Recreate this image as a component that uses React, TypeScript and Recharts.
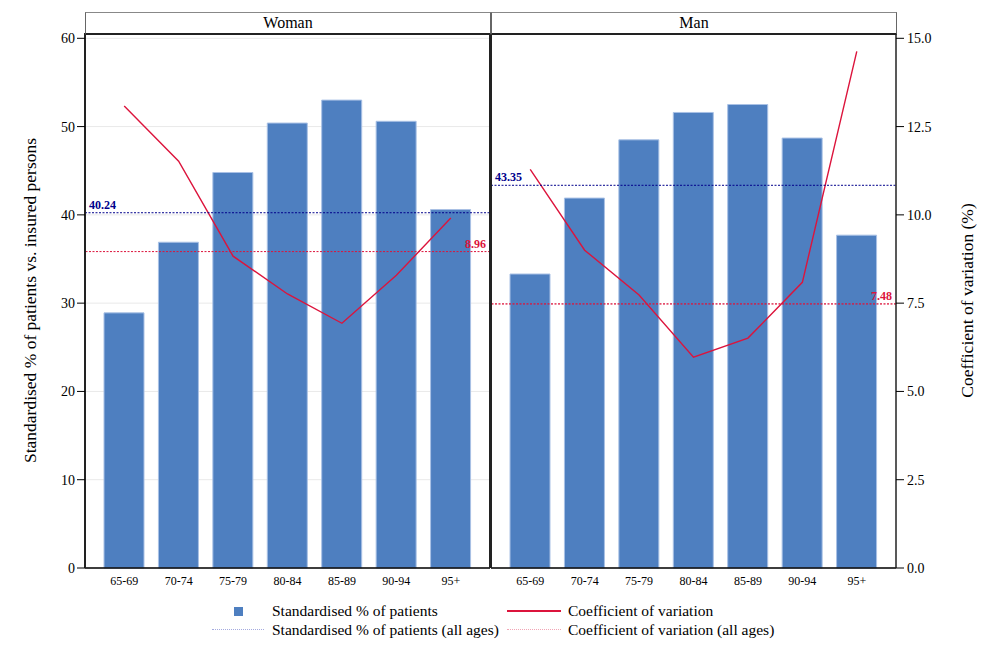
import React from "react";
import {
  ComposedChart, Bar, Line, XAxis, YAxis, CartesianGrid, ReferenceLine,
} from "recharts";

const ageGroups = ["65-69", "70-74", "75-79", "80-84", "85-89", "90-94", "95+"];
const womanPct = [28.9, 36.9, 44.8, 50.4, 53.0, 50.6, 40.6];
const womanCv = [13.08, 11.52, 8.83, 7.76, 6.93, 8.29, 9.91];
const manPct = [33.3, 41.9, 48.5, 51.6, 52.5, 48.7, 37.7];
const manCv = [11.29, 9.0, 7.73, 5.97, 6.51, 8.09, 14.63];
const panelNames = ["Woman", "Man"];
const pctAllAges = [40.24, 43.35];
const cvAllAges = [8.96, 7.48];
const pctTicks = [0, 10, 20, 30, 40, 50, 60];
const cvTicks = [0, 2.5, 5, 7.5, 10, 12.5, 15];

const SERIF = "'Liberation Serif', 'Times New Roman', serif";
const BLUE = "#4e7fc0";
const RED = "#dc143c";
const NAVY = "#00008b";

const build = (pct: number[], cv: number[]) =>
  ageGroups.map((age, i) => ({ age, pct: pct[i], cv: cv[i] }));

// rotated axis titles, placed from the axis viewBox
const AxisTitle = (props: any) => {
  const { viewBox, text, side } = props;
  const vb = viewBox || {};
  const cx = side === "left" ? vb.x + 30 : vb.x + 71;
  const cy = vb.y + vb.height / 2;
  return (
    <text x={cx} y={cy} transform={`rotate(-90 ${cx} ${cy})`} textAnchor="middle"
      dominantBaseline="central" fontSize={17.5} fontFamily={SERIF} fill="#000">
      {text}
    </text>
  );
};

interface PanelProps {
  data: { age: string; pct: number; cv: number }[];
  pctAvg: number;
  cvAvg: number;
  left: boolean;
}

function Panel({ data, pctAvg, cvAvg, left }: PanelProps) {
  const tickStyle = { fill: "#000", fontSize: 14, fontFamily: SERIF };
  return (
    <ComposedChart width={left ? 491 : 499} height={600} data={data} barSize={40}
      margin={{ top: 33, right: left ? 0 : 23, bottom: 0, left: 0 }}>
      <CartesianGrid vertical={false} stroke="#e9e9e9" />
      <XAxis dataKey="age" padding={{ left: 12, right: 12 }} tickLine={false} interval={0}
        height={32} axisLine={{ stroke: "#000", strokeWidth: 1.5 }}
        tick={{ fill: "#000", fontSize: 12, fontFamily: SERIF }} />
      <YAxis domain={[0, 60.6]} ticks={pctTicks} width={left ? 85 : 1}
        tick={left ? tickStyle : false} tickSize={8} tickMargin={2}
        tickLine={left ? { stroke: "#000" } : false}
        axisLine={{ stroke: "#222", strokeWidth: 2 }}
        label={left ? (p: any) => <AxisTitle {...p} side="left"
          text="Standardised % of patients vs. insured persons" /> : undefined} />
      <YAxis yAxisId="cv" orientation="right" domain={[0, 15.15]} ticks={cvTicks}
        width={left ? 1 : 70} tick={left ? false : tickStyle} tickSize={8} tickMargin={3}
        tickFormatter={(v: number) => v.toFixed(1)}
        tickLine={left ? false : { stroke: "#000" }}
        axisLine={{ stroke: "#222", strokeWidth: left ? 2 : 1.5 }}
        label={left ? undefined : (p: any) => <AxisTitle {...p} side="right"
          text="Coefficient of variation (%)" />} />
      <Bar dataKey="pct" fill={BLUE} stroke="#a9c1e5" strokeWidth={1} isAnimationActive={false} />
      <Line yAxisId="cv" type="linear" dataKey="cv" stroke={RED} strokeWidth={1.4}
        dot={false} activeDot={false} isAnimationActive={false} />
      <ReferenceLine y={pctAvg} stroke={NAVY} strokeDasharray="2 1.5" strokeWidth={1}
        label={{ value: pctAvg.toFixed(2), position: "insideBottomLeft", offset: 4,
          fill: NAVY, fontSize: 12, fontWeight: "bold", fontFamily: SERIF }} />
      <ReferenceLine yAxisId="cv" y={cvAvg} stroke={RED} strokeDasharray="2 1.5"
        strokeWidth={left ? 1 : 1.6} strokeOpacity={left ? 1 : 0.75}
        label={{ value: cvAvg.toFixed(2), position: "insideBottomRight", offset: 4,
          fill: RED, fontSize: 12, fontWeight: "bold", fontFamily: SERIF }} />
    </ComposedChart>
  );
}

const legendText: React.CSSProperties = {
  position: "absolute", fontSize: 15.5, lineHeight: "16px", fontFamily: SERIF, color: "#000",
  whiteSpace: "nowrap",
};

export default function App() {
  return (
    <div style={{ position: "absolute", left: 0, top: 0, width: 989, height: 645,
      background: "#fff", fontFamily: SERIF }}>
      <div style={{ position: "absolute", left: 0, top: 0 }}>
        <Panel data={build(womanPct, womanCv)} pctAvg={pctAllAges[0]} cvAvg={cvAllAges[0]} left />
      </div>
      <div style={{ position: "absolute", left: 490, top: 0 }}>
        <Panel data={build(manPct, manCv)} pctAvg={pctAllAges[1]} cvAvg={cvAllAges[1]} left={false} />
      </div>

      {panelNames.map((name, i) => (
        <div key={name} style={{
          position: "absolute", left: i === 0 ? 85 : 491, top: 12, width: 406, height: 23,
          boxSizing: "border-box", borderTop: "1px solid #888", borderLeft: "1px solid #666",
          borderRight: "1px solid #666", borderBottom: "2px solid #222", background: "#fff",
          textAlign: "center", fontSize: 16, lineHeight: "20px", color: "#000",
        }}>{name}</div>
      ))}

      {/* legend */}
      <div style={{ position: "absolute", left: 234, top: 607, width: 9, height: 9, background: BLUE }} />
      <div style={{ ...legendText, left: 272, top: 603 }}>Standardised % of patients</div>
      <div style={{ position: "absolute", left: 507, top: 610, width: 54, height: 1.5, background: RED }} />
      <div style={{ ...legendText, left: 568, top: 603 }}>Coefficient of variation</div>
      <div style={{ position: "absolute", left: 212, top: 629, width: 52, borderTop: "1px dotted #a4aadf" }} />
      <div style={{ ...legendText, left: 272, top: 622 }}>Standardised % of patients (all ages)</div>
      <div style={{ position: "absolute", left: 507, top: 629, width: 54, borderTop: "1px dotted #f2a5b5" }} />
      <div style={{ ...legendText, left: 568, top: 622 }}>Coefficient of variation (all ages)</div>
    </div>
  );
}
